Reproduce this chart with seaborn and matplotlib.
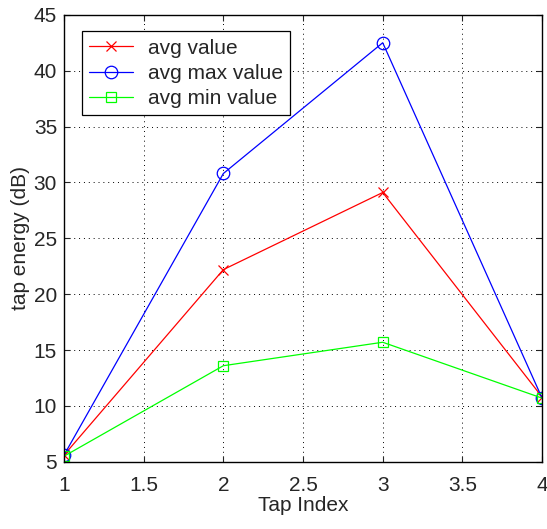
import pandas as pd
import matplotlib
matplotlib.use("Agg")
import matplotlib.pyplot as plt
import seaborn as sns

# werte
tap_index = [1, 2, 3, 4]
avg_value = [5.6, 22.2, 29.1, 10.8]
avg_max_value = [5.6, 30.8, 42.5, 10.7]
avg_min_value = [5.5, 13.6, 15.7, 10.7]

series_names = ["avg value", "avg max value", "avg min value"]

df = pd.DataFrame({"Tap": tap_index,
                   "avg value": avg_value,
                   "avg max value": avg_max_value,
                   "avg min value": avg_min_value})
df_long = df.melt(id_vars="Tap", var_name="Serie", value_name="Energy")

sns.set_style("ticks")
plt.rcParams["font.family"] = ["Liberation Sans", "DejaVu Sans"]
plt.rcParams["font.size"] = 14

fig = plt.figure(figsize=(5.47, 5.29), dpi=100)
ax = fig.add_axes([0.117, 0.127, 0.874, 0.845])

farben = {"avg value": "#ff0000", "avg max value": "#0000ff", "avg min value": "#00ff00"}
marker = {"avg value": "x", "avg max value": "o", "avg min value": "s"}
msize = {"avg value": 7, "avg max value": 9, "avg min value": 7.5}

for name in series_names:
    sub = df_long[df_long["Serie"] == name]
    sns.lineplot(data=sub, x="Tap", y="Energy", ax=ax, color=farben[name],
                 marker=marker[name], markersize=msize[name],
                 markerfacecolor="none", markeredgecolor=farben[name],
                 markeredgewidth=0.9, linewidth=0.9, label=name)

ax.set_xlim(1, 4)
ax.set_ylim(5, 45)
ax.set_xticks([1, 1.5, 2, 2.5, 3, 3.5, 4])
ax.set_xticklabels(["1", "1.5", "2", "2.5", "3", "3.5", "4"])
ax.set_yticks(range(5, 50, 5))
ax.grid(True, color="black", linestyle=(0, (1, 4)), linewidth=0.7)
ax.tick_params(direction="in", length=4, width=0.8, top=True, right=True,
               labelsize=15)
ax.tick_params(axis="x", pad=10)
ax.tick_params(axis="y", pad=5)
for s in ax.spines.values():
    s.set_linewidth(1.0)
    s.set_color("black")

ax.set_xlabel("Tap Index", fontsize=15, labelpad=1)
ax.set_ylabel("tap energy (dB)", fontsize=15, labelpad=3)

leg = ax.legend(loc="upper left", bbox_to_anchor=(0.038, 0.963), fontsize=15,
                frameon=True, fancybox=False, edgecolor="black", framealpha=1,
                borderaxespad=0, handlelength=2.1, borderpad=0.35,
                labelspacing=0.3, handletextpad=0.7)
leg.get_frame().set_linewidth(0.9)

plt.savefig("out.png", dpi=100)
